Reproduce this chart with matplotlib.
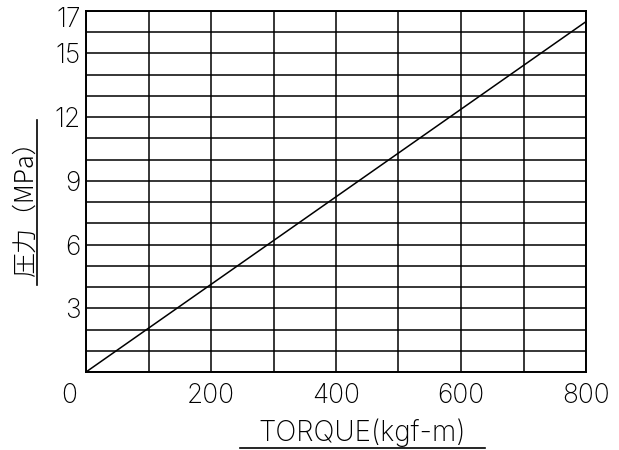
import matplotlib
matplotlib.use("Agg")
import matplotlib.pyplot as plt
from matplotlib.lines import Line2D
from matplotlib.transforms import ScaledTranslation
from matplotlib import font_manager

plt.rcParams['font.family'] = ['DejaVu Sans', 'Noto Sans CJK JP']

# data
torque = [0, 800]
pressure = [0, 16.5]

x_ticks = [0, 200, 400, 600, 800]
x_ticklabels = ["0", "200", "400", "600", "800"]
y_ticks = [3, 6, 9, 12, 15, 17]
y_ticklabels = ["3", "6", "9", "12", "15", "17"]
x_grid = list(range(0, 801, 100))
y_grid = list(range(0, 18))

# thin lettering if a light face is around
light = [f for f in font_manager.fontManager.ttflist
         if f.name in ("DejaVu Sans", "Lato", "Inter", "Roboto") and f.weight in (100, 200, 300, "light", "extra light", "thin")]
thin_family = light[0].name if light else "DejaVu Sans"
thin_weight = "light" if light else "normal"

W, H = 619, 450
fig = plt.figure(figsize=(W / 100, H / 100), dpi=100)
ax = fig.add_axes([86 / W, 1 - 372 / H, 500 / W, 361 / H])

for gx in x_grid:
    ax.axvline(gx, color="black", lw=1.1, zorder=1)
for gy in y_grid:
    ax.axhline(gy, color="black", lw=1.1, zorder=1)

ax.plot(torque, pressure, color="black", lw=1.1, zorder=2)

ax.set_xlim(0, 800)
ax.set_ylim(0, 17)
for s in ax.spines.values():
    s.set_linewidth(1.4)

tick_font = dict(fontsize=19, family=thin_family, fontweight=thin_weight, color="black")
ax.set_xticks(x_ticks)
ax.set_xticklabels(x_ticklabels, **tick_font)
ax.set_yticks(y_ticks)
ax.set_yticklabels(y_ticklabels, **tick_font)
ax.tick_params(axis="x", length=0, pad=8)
ax.tick_params(axis="y", length=0, pad=4)

# origin "0" sits left of the corner
lbl0 = ax.get_xticklabels()[0]
lbl0.set_transform(lbl0.get_transform() + ScaledTranslation(-17 / 100, 0, fig.dpi_scale_trans))
# "17" sits a bit lower
lbl17 = ax.get_yticklabels()[-1]
lbl17.set_transform(lbl17.get_transform() + ScaledTranslation(0, -6 / 100, fig.dpi_scale_trans))

# axis titles with underline
fig.text(25 / W, 1 - 202 / H, "圧力（MPa）", rotation=90, ha="center", va="center",
         fontsize=18, family=["Noto Sans CJK JP", "DejaVu Sans"], fontweight="light", color="black")
fig.add_artist(Line2D([37 / W, 37 / W], [1 - 285 / H, 1 - 120 / H], color="black", lw=1.2))

fig.text(362 / W, 1 - 433 / H, "TORQUE(kgf-m)", ha="center", va="center",
         fontsize=20, family=thin_family, fontweight=thin_weight, color="black")
fig.add_artist(Line2D([240 / W, 485 / W], [1 - 448 / H, 1 - 448 / H], color="black", lw=1.2))

fig.savefig("out.png", dpi=100)
